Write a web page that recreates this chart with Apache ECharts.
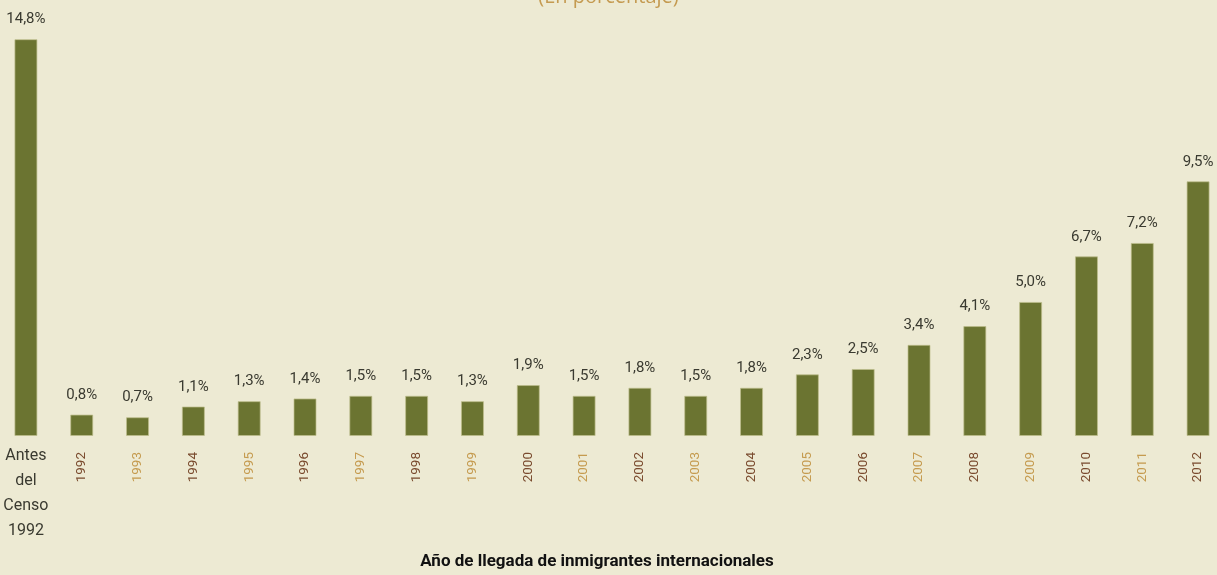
<!DOCTYPE html>
<html>
<head>
<meta charset="utf-8">
<script src="https://cdn.jsdelivr.net/npm/echarts@6/dist/echarts.min.js"></script>
<style>
html,body{margin:0;padding:0;background:#EDEAD3;}
#c{width:1217px;height:575px;}
</style>
</head>
<body>
<div id="c"></div>
<script>
const categories = ['Antes\ndel\nCenso\n1992','1992','1993','1994','1995','1996','1997','1998','1999','2000','2001','2002','2003','2004','2005','2006','2007','2008','2009','2010','2011','2012'];
const values = [14.8,0.8,0.7,1.1,1.3,1.4,1.5,1.5,1.3,1.9,1.5,1.8,1.5,1.8,2.3,2.5,3.4,4.1,5.0,6.7,7.2,9.5];
const titleText = '(En porcentaje)';
const axisTitle = 'Año de llegada de inmigrantes internacionales';

const FONT = 'Roboto,"Liberation Sans",sans-serif';
const chart = echarts.init(document.getElementById('c'));
chart.setOption({
  backgroundColor: '#EDEAD3',
  animation: false,
  title: {
    text: titleText,
    left: 'center',
    top: -18,
    textStyle: { color: '#C49A50', fontSize: 20, fontWeight: 'normal', fontFamily: '"Open Sans",sans-serif' }
  },
  grid: { left: -2, right: -9, top: 7, bottom: 139, outerBoundsMode: 'none', containLabel: false },
  xAxis: [{
    type: 'category',
    data: categories,
    position: 'bottom',
    axisLine: { show: false },
    axisTick: { show: false },
    axisLabel: {
      interval: 0,
      rotate: 90,
      margin: 16,
      fontFamily: FONT,
      fontSize: 13.5,
      formatter: function (v, i) {
        if (i === 0) return '';
        return (parseInt(v, 10) % 2 === 0 ? '{e|' : '{o|') + v + '}';
      },
      rich: {
        e: { color: '#7A4B2E', fontFamily: FONT, fontSize: 13.5 },
        o: { color: '#C59B4F', fontFamily: FONT, fontSize: 13.5 }
      }
    },
    name: axisTitle,
    nameLocation: 'middle',
    nameGap: 117,
    nameTextStyle: { color: '#111', fontFamily: FONT, fontWeight: 'bold', fontSize: 17, padding: [0, 30, 0, 0] }
  }, {
    type: 'category',
    data: categories,
    position: 'bottom',
    axisLine: { show: false },
    axisTick: { show: false },
    axisLabel: {
      interval: 0,
      margin: 7,
      color: '#3A3A30',
      fontFamily: FONT,
      fontSize: 16,
      lineHeight: 25,
      formatter: function (v, i) { return i === 0 ? v : ''; }
    }
  }],
  yAxis: { type: 'value', min: 0, max: 16, show: false, splitLine: { show: false } },
  series: [{
    type: 'bar',
    data: values,
    barWidth: 23,
    itemStyle: { color: '#6B7431', borderColor: 'rgba(190,190,140,0.7)', borderWidth: 1 },
    label: {
      show: true,
      position: 'top',
      distance: 12,
      color: '#3A3A30',
      fontFamily: FONT,
      fontSize: 15,
      formatter: function (p) { return p.value.toFixed(1).replace('.', ',') + '%'; }
    }
  }]
});
</script>
</body>
</html>
